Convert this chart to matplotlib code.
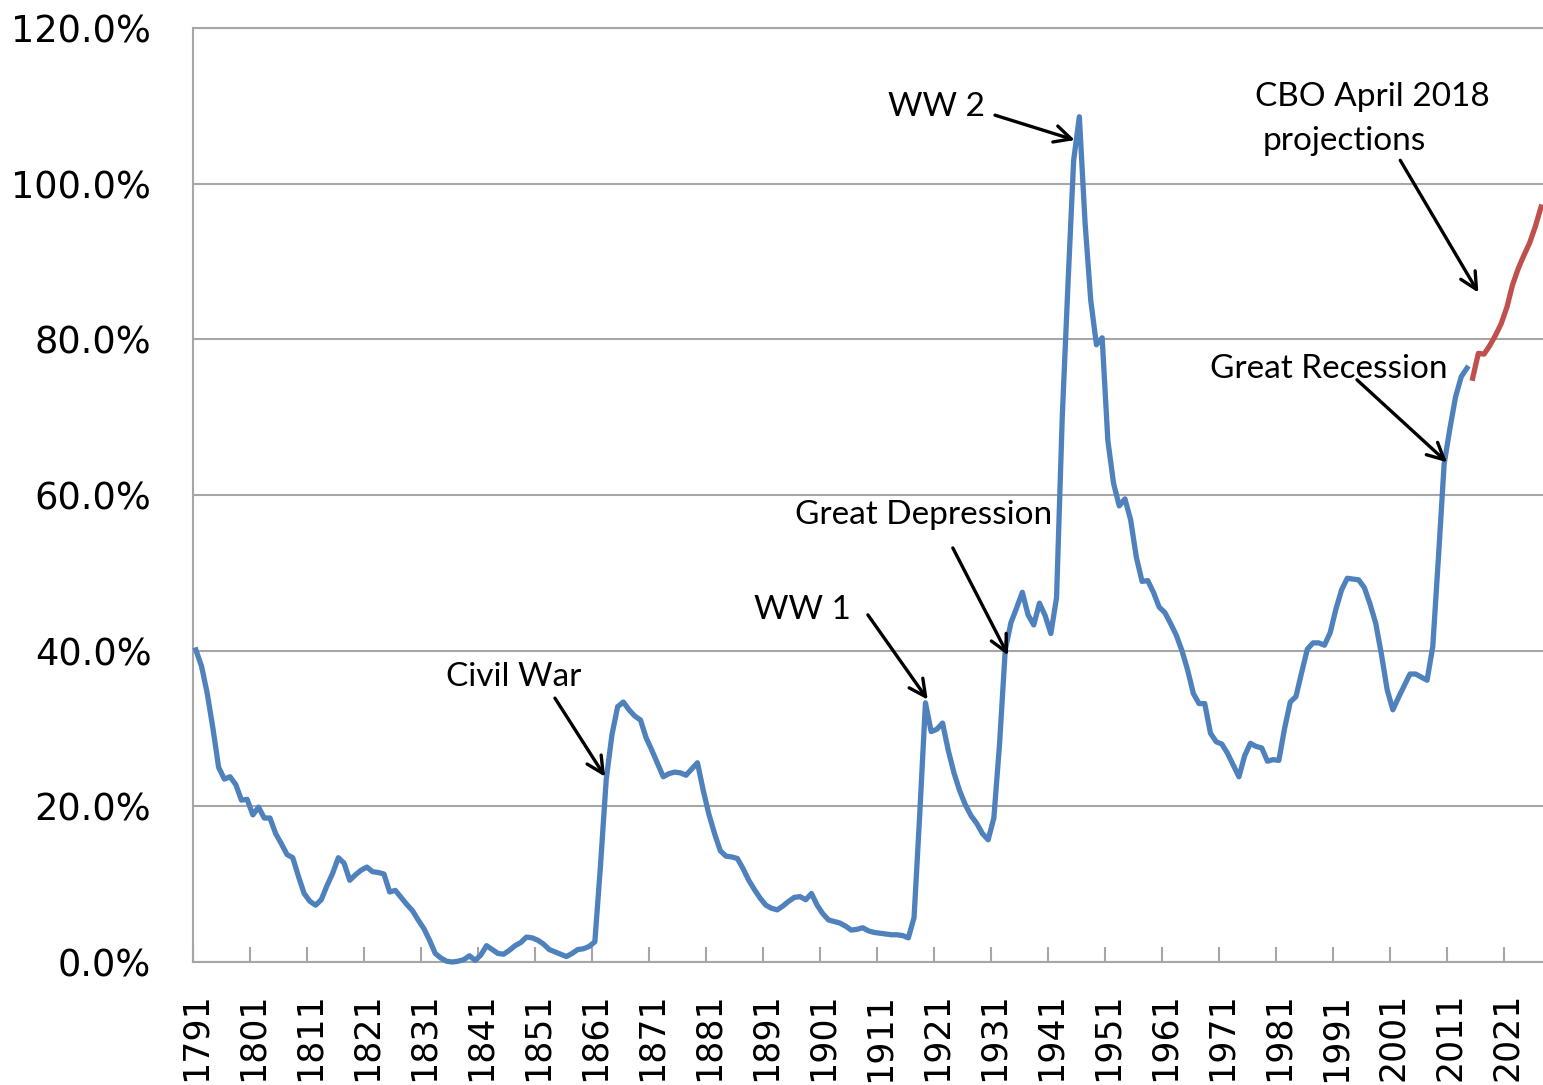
import matplotlib
matplotlib.use("Agg")
import matplotlib.pyplot as plt
from matplotlib.ticker import FixedLocator, FuncFormatter

# Federal debt held by the public, % of GDP
hist_start = 1791
hist_values = [
    40.1, 38.0, 34.5, 30.0, 25.0, 23.5, 23.8, 22.8, 20.8, 20.9,   # 1791-1800
    18.9, 19.9, 18.5, 18.5, 16.5, 15.2, 13.8, 13.4, 11.0, 8.8,    # 1801-1810
    7.8, 7.3, 8.0, 9.8, 11.4, 13.4, 12.7, 10.5, 11.2, 11.8,       # 1811-1820
    12.2, 11.6, 11.5, 11.3, 9.0, 9.2, 8.3, 7.4, 6.6, 5.4,         # 1821-1830
    4.3, 2.8, 1.1, 0.5, 0.1, 0.0, 0.1, 0.3, 0.8, 0.2,             # 1831-1840
    0.9, 2.1, 1.6, 1.1, 1.0, 1.5, 2.1, 2.5, 3.2, 3.1,             # 1841-1850
    2.8, 2.3, 1.6, 1.3, 1.0, 0.7, 1.1, 1.6, 1.7, 2.0,             # 1851-1860
    2.6, 12.5, 23.5, 29.2, 32.8, 33.4, 32.4, 31.6, 31.1, 28.8,    # 1861-1870
    27.2, 25.5, 23.8, 24.2, 24.4, 24.3, 24.0, 24.8, 25.6, 22.1,   # 1871-1880
    19.0, 16.5, 14.3, 13.6, 13.5, 13.3, 12.0, 10.5, 9.3, 8.2,     # 1881-1890
    7.3, 6.9, 6.7, 7.2, 7.8, 8.3, 8.4, 8.0, 8.8, 7.3,             # 1891-1900
    6.2, 5.4, 5.2, 5.0, 4.6, 4.1, 4.2, 4.4, 4.0, 3.8,             # 1901-1910
    3.7, 3.6, 3.5, 3.5, 3.4, 3.1, 5.7, 19.0, 33.3, 29.6,          # 1911-1920
    29.9, 30.7, 27.2, 24.3, 22.0, 20.2, 18.8, 17.8, 16.5, 15.7,   # 1921-1930
    18.5, 28.0, 40.1, 43.6, 45.5, 47.5, 44.6, 43.3, 46.1, 44.5,   # 1931-1940
    42.2, 46.8, 70.0, 87.0, 103.0, 108.6, 95.0, 85.0, 79.3, 80.2, # 1941-1950
    67.0, 61.5, 58.6, 59.5, 56.8, 52.0, 48.9, 49.0, 47.5, 45.6,   # 1951-1960
    44.9, 43.5, 42.0, 40.0, 37.5, 34.5, 33.2, 33.2, 29.4, 28.3,   # 1961-1970
    28.0, 26.8, 25.3, 23.8, 26.5, 28.1, 27.7, 27.5, 25.8, 26.0,   # 1971-1980
    25.9, 30.0, 33.4, 34.1, 37.2, 40.2, 41.0, 41.0, 40.7, 42.3,   # 1981-1990
    45.3, 47.8, 49.3, 49.2, 49.1, 48.1, 46.0, 43.5, 39.5, 35.0,   # 1991-2000
    32.4, 34.0, 35.5, 37.0, 37.0, 36.6, 36.2, 40.5, 52.0, 64.0,   # 2001-2010
    68.5, 72.6, 75.2, 76.3,                                       # 2011-2014
]
hist_years = list(range(hist_start, hist_start + len(hist_values)))

proj_years = list(range(2015, 2028))
proj_values = [75.0, 78.2, 78.1, 79.2, 80.5, 82.0, 84.1, 87.0, 89.1, 90.8,
               92.4, 94.5, 97.0]

label_years = list(range(1791, 2022, 10))

annotations = [
    # text, text pos (year, pct), arrow start, arrow tip
    ("Civil War", (1846.8, 36.6), (1854.0, 33.9), (1862.8, 23.8)),
    ("WW 1", (1897.5, 45.2), (1908.9, 44.6), (1919.4, 33.7)),
    ("Great Depression", (1918.7, 57.4), (1923.8, 53.2), (1933.5, 39.4)),
    ("WW 2", (1921.0, 109.9), (1931.2, 108.8), (1945.2, 105.6)),
    ("Great Recession", (1989.8, 76.2), (1994.7, 74.8), (2010.5, 64.2)),
]

BLUE = "#4F81BD"
RED = "#C0504D"
GRID = "#A6A6A6"

fig = plt.figure(figsize=(15.43, 10.85), dpi=100)
ax = fig.add_axes([193 / 1543, 123 / 1085, 1350 / 1543, 934 / 1085])

ax.plot(hist_years, hist_values, color=BLUE, lw=3.8, solid_joinstyle="round",
        clip_on=False, zorder=3)
ax.plot(proj_years, proj_values, color=RED, lw=3.8, solid_joinstyle="round",
        clip_on=False, zorder=3)

ax.set_xlim(1790.5, 1790.5 + 1350 / 5.70)
ax.set_ylim(0, 120)

# y axis
ax.yaxis.set_major_locator(FixedLocator(range(0, 121, 20)))
ax.yaxis.set_major_formatter(FuncFormatter(lambda v, p: f"{v:.1f}%"))
ax.tick_params(axis="y", length=0, pad=30, labelsize=26.5)
ax.grid(axis="y", color=GRID, lw=1.5)
ax.set_axisbelow(True)

# x axis: labels on the categories, tick marks between categories
ax.xaxis.set_major_locator(FixedLocator(label_years))
ax.xaxis.set_minor_locator(FixedLocator([y - 0.5 for y in label_years]))
ax.tick_params(axis="x", which="major", length=0, pad=22, labelsize=25,
               labelrotation=90)
ax.tick_params(axis="x", which="minor", direction="in", length=11,
               width=1.5, color=GRID)

for side in ["left", "top", "bottom"]:
    ax.spines[side].set_color(GRID)
    ax.spines[side].set_linewidth(1.5)
ax.spines["right"].set_visible(False)

arrow = dict(arrowstyle="->", color="black", lw=2.4, mutation_scale=30,
             shrinkA=0, shrinkB=0)
for text, tpos, start, tip in annotations:
    ax.text(tpos[0], tpos[1], text, ha="center", va="center",
            fontsize=24, family="Lato")
    ax.annotate("", xy=tip, xytext=start, arrowprops=arrow)

ax.text(1976.8, 111.1, "CBO April 2018", ha="left", va="center",
        fontsize=24, family="Lato")
ax.text(1978.2, 105.5, "projections", ha="left", va="center",
        fontsize=24, family="Lato")
ax.annotate("", xy=(2016.0, 86.0), xytext=(2002.3, 103.0), arrowprops=arrow)

fig.savefig("out.png", dpi=100)
